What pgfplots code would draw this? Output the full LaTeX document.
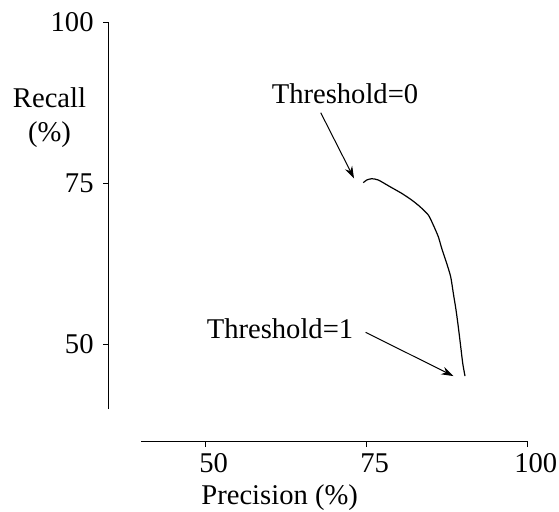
\documentclass[border=0pt]{standalone}
\usepackage{fontspec}
\setmainfont{Liberation Serif}
\usepackage{pgfplots}
\pgfplotsset{compat=1.18}
\usetikzlibrary{arrows.meta}
\begin{document}
\fontsize{14.3}{17}\selectfont
\begin{tikzpicture}
\begin{axis}[
  scale only axis, width=193.2pt, height=193.2pt,
  xmin=40, xmax=100, ymin=40, ymax=100,
  axis lines=left,
  axis line style={-, line width=0.5pt},
  axis x line shift=16.3pt,
  axis y line shift=16.2pt,
  tick align=outside,
  major tick length=2.7pt,
  tick style={line width=0.5pt, black},
  xtick={50,75,100}, ytick={50,75,100},
  /pgf/number format/assume math mode=true,
  ticklabel style={font=\fontsize{14.3}{17}\selectfont},
  xticklabel style={xshift=4pt, yshift=1.5pt},
  xlabel={Precision (\%)},
  ylabel={Recall\\(\%)},
  xlabel style={at={(rel axis cs:0.358,-0.23)}, anchor=center},
  ylabel style={rotate=-90, align=center, at={(rel axis cs:-0.2375,0.755)}, anchor=center},
  clip=false,
]
\addplot[black, line width=0.6pt, smooth, tension=0.4] coordinates {
(74.47,75.14) (75.00,75.56) (75.78,75.76) (76.80,75.56) (78.62,74.52)
(80.43,73.49) (81.99,72.45) (83.28,71.41) (84.57,70.12) (85.34,68.57)
(86.12,66.75) (86.65,64.95) (87.42,62.62) (88.04,60.54) (88.45,57.97)
(88.87,55.37) (89.22,52.78) (89.60,49.67) (89.91,47.10) (90.26,45.12)
};
\node at (axis cs:71.63,88.91) {Threshold=0};
\draw[-{Stealth[length=6pt,width=4pt]}, line width=0.5pt] (axis cs:67.86,86.01) -- (axis cs:73.03,75.82);
\node at (axis cs:61.54,52.42) {Threshold=1};
\draw[-{Stealth[length=6pt,width=4pt]}, line width=0.5pt] (axis cs:74.84,51.91) -- (axis cs:88.45,45.12);
\coordinate (bl) at (axis cs:18.06,24.16);
\coordinate (tr) at (axis cs:104.86,103.51);
\end{axis}
\pgfresetboundingbox
\useasboundingbox (bl) rectangle (tr);
\end{tikzpicture}
\end{document}
